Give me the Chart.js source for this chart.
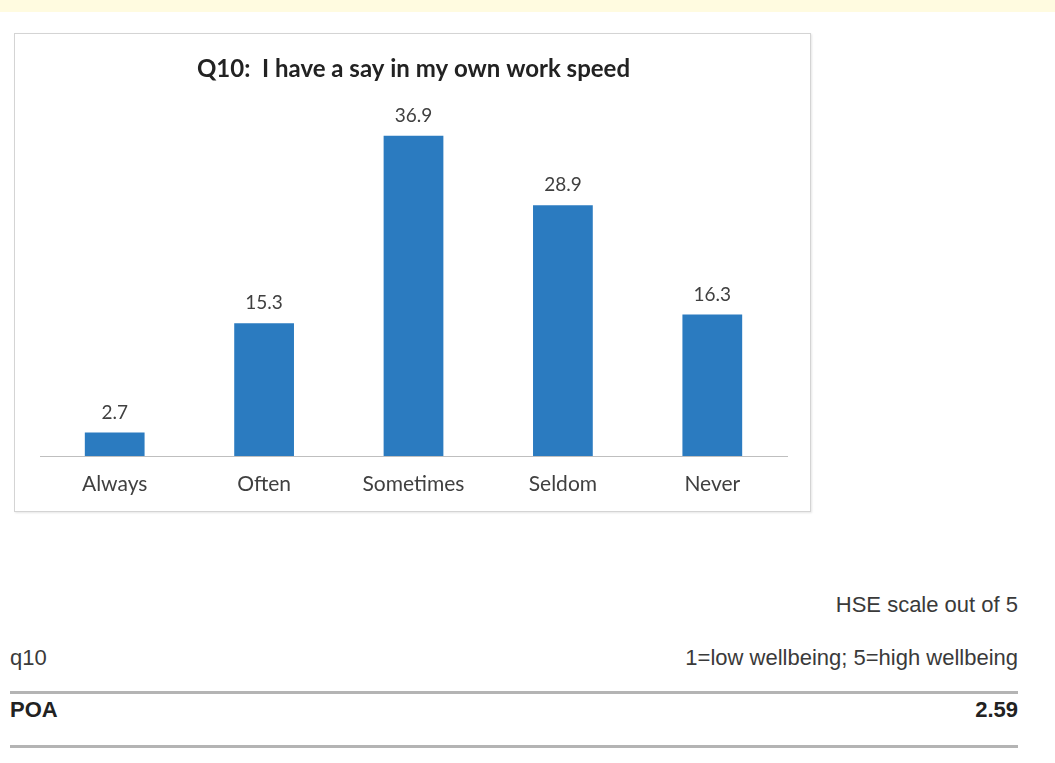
<!DOCTYPE html>
<html>
<head>
<meta charset="utf-8">
<script src="https://cdn.jsdelivr.net/npm/chart.js@4/dist/chart.umd.min.js"></script>
<style>
  body { margin: 0; background: #fff; width: 1055px; height: 763px; position: relative; overflow: hidden; font-family: "Liberation Sans", Arial, sans-serif; }
  #strip { position: absolute; left: 0; top: 0; width: 1055px; height: 12px; background: #fffbe0; }
  #box { position: absolute; left: 14px; top: 33px; width: 795px; height: 477px; border: 1px solid #d4d4d4; box-shadow: 1px 1px 2px #e6e6e6; background: #fff; }
  .txt { position: absolute; font-size: 22px; color: #3a3a3a; white-space: nowrap; line-height: 1; }
  .right { right: 37px; text-align: right; }
  .rule { position: absolute; left: 10px; width: 1008px; height: 3px; background: #b4b4b4; }
</style>
</head>
<body>
<div id="strip"></div>
<div id="box"><canvas id="myChart" width="795" height="477"></canvas></div>

<div class="txt right" style="top: 594px;">HSE scale out of 5</div>
<div class="txt" style="left: 10px; top: 647px;">q10</div>
<div class="txt right" style="top: 647px;">1=low wellbeing; 5=high wellbeing</div>
<div class="rule" style="top: 691px;"></div>
<div class="txt" style="left: 10px; top: 699px; font-weight: bold; color: #222;">POA</div>
<div class="txt right" style="top: 699px; font-weight: bold; color: #222;">2.59</div>
<div class="rule" style="top: 745px;"></div>

<script>
const categories = ['Always', 'Often', 'Sometimes', 'Seldom', 'Never'];
const percentages = [2.7, 15.3, 36.9, 28.9, 16.3];
const chartTitle = 'Q10:  I have a say in my own work speed';

// draws the number above each bar
const valueLabels = {
  id: 'valueLabels',
  afterDatasetsDraw(chart) {
    const ctx = chart.ctx;
    ctx.save();
    ctx.font = '19px Lato, "Open Sans", sans-serif';
    ctx.fillStyle = '#404040';
    ctx.textAlign = 'center';
    ctx.textBaseline = 'alphabetic';
    chart.getDatasetMeta(0).data.forEach((bar, i) => {
      ctx.fillText(percentages[i].toFixed(1), bar.x, bar.y - 14);
    });
    ctx.restore();
  }
};

const data = {
  labels: categories,
  datasets: [{
    data: percentages,
    backgroundColor: '#2b7bc0',
    borderWidth: 0,
    barPercentage: 0.4,
    categoryPercentage: 1,
  }]
};

const config = {
  type: 'bar',
  data,
  options: {
    responsive: false,
    animation: false,
    layout: { padding: { left: 25, right: 23, top: 0, bottom: -2 } },
    plugins: {
      legend: { display: false },
      tooltip: { enabled: false },
      title: {
        display: true,
        text: chartTitle,
        color: '#222',
        font: { family: 'Lato, "Open Sans", sans-serif', size: 24, weight: 'bold' },
        padding: { top: 21, bottom: 25 },
      },
    },
    scales: {
      x: {
        grid: { display: false, drawTicks: false },
        border: { display: true, color: '#bfbfbf', width: 1 },
        ticks: {
          color: '#404040',
          padding: 18,
          font: { family: 'Lato, "Open Sans", sans-serif', size: 21, lineHeight: 1 },
        },
      },
      y: {
        display: false,
        min: 0,
        max: 40,
      },
    },
  },
  plugins: [valueLabels],
};

var myChart = new Chart(document.getElementById('myChart'), config);
</script>
</body>
</html>
